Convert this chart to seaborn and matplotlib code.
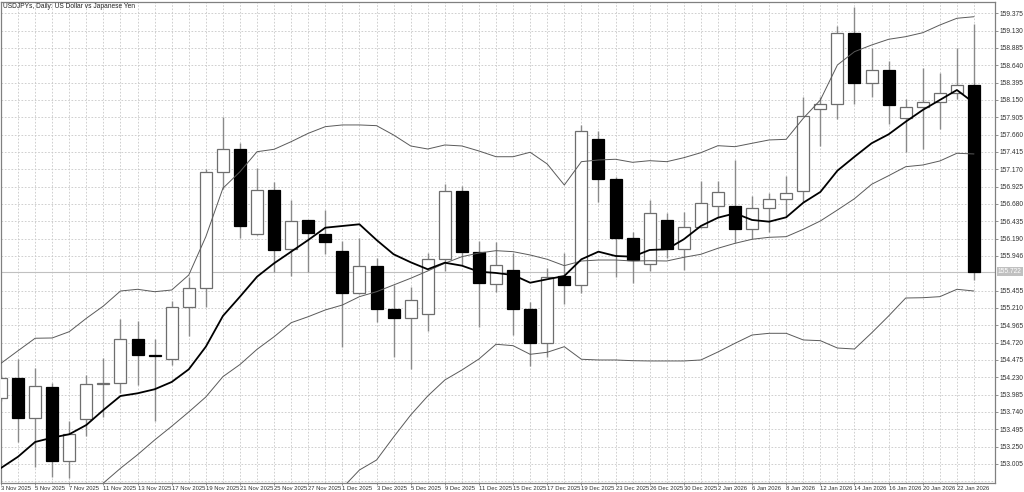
import numpy as np
import pandas as pd
import matplotlib
matplotlib.use("Agg")
import matplotlib.pyplot as plt
import matplotlib.transforms as mtransforms
import seaborn as sns

title = "USDJPYs, Daily: US Dollar vs Japanese Yen"

dates = ['3 Nov 2025', '4 Nov 2025', '5 Nov 2025', '6 Nov 2025', '7 Nov 2025',
         '10 Nov 2025', '11 Nov 2025', '12 Nov 2025', '13 Nov 2025', '14 Nov 2025',
         '17 Nov 2025', '18 Nov 2025', '19 Nov 2025', '20 Nov 2025', '21 Nov 2025',
         '24 Nov 2025', '25 Nov 2025', '26 Nov 2025', '27 Nov 2025', '28 Nov 2025',
         '1 Dec 2025', '2 Dec 2025', '3 Dec 2025', '4 Dec 2025', '5 Dec 2025',
         '8 Dec 2025', '9 Dec 2025', '10 Dec 2025', '11 Dec 2025', '12 Dec 2025',
         '15 Dec 2025', '16 Dec 2025', '17 Dec 2025', '18 Dec 2025', '19 Dec 2025',
         '22 Dec 2025', '23 Dec 2025', '24 Dec 2025', '26 Dec 2025', '29 Dec 2025',
         '30 Dec 2025', '31 Dec 2025', '2 Jan 2026', '5 Jan 2026', '6 Jan 2026',
         '7 Jan 2026', '8 Jan 2026', '9 Jan 2026', '12 Jan 2026', '13 Jan 2026',
         '14 Jan 2026', '15 Jan 2026', '16 Jan 2026', '19 Jan 2026', '20 Jan 2026',
         '21 Jan 2026', '22 Jan 2026', '23 Jan 2026']

opens = [153.942, 154.216, 153.651, 154.097, 153.051, 153.637, 154.135, 154.145, 154.767, 154.540,
         154.489, 155.220, 155.488, 157.128, 157.457, 156.252, 156.874, 156.040, 156.449, 156.260,
         156.016, 155.418, 155.804, 155.196, 155.073, 155.121, 155.907, 156.868, 156.001, 155.549,
         155.743, 155.200, 154.711, 155.662, 155.539, 157.603, 157.029, 156.195, 155.832, 156.454,
         156.040, 156.359, 156.652, 156.656, 156.322, 156.619, 156.746, 156.864, 158.023, 158.089,
         159.093, 158.394, 158.570, 157.891, 158.055, 158.122, 158.253, 158.366]
highs = [154.263, 154.489, 154.366, 154.145, 153.613, 154.263, 154.499, 155.054, 155.026, 154.767,
         155.309, 155.652, 157.175, 157.905, 157.546, 157.185, 156.991, 156.736, 156.454, 156.588,
         156.157, 156.195, 155.912, 155.535, 155.502, 155.983, 156.963, 156.934, 156.161, 156.147,
         155.983, 155.290, 155.771, 155.983, 157.797, 157.712, 157.066, 156.288, 156.736, 156.557,
         156.571, 157.005, 157.005, 157.302, 156.793, 156.831, 157.076, 158.188, 158.197, 159.196,
         159.460, 158.881, 158.701, 158.164, 158.598, 158.536, 158.889, 159.224]
lows = [153.895, 153.312, 152.967, 152.825, 152.803, 153.405, 153.673, 154.013, 154.121, 153.617,
        154.404, 154.814, 155.220, 156.888, 156.195, 156.242, 155.723, 155.662, 155.719, 155.977,
        154.663, 155.410, 155.016, 154.513, 154.343, 154.889, 155.733, 155.818, 154.946, 155.432,
        154.828, 154.394, 154.513, 155.266, 155.426, 156.704, 155.652, 155.559, 155.733, 155.912,
        155.747, 156.345, 156.500, 156.124, 156.181, 156.288, 156.492, 156.712, 157.504, 157.881,
        158.093, 158.188, 157.811, 157.419, 157.457, 157.736, 158.164, 155.606]
closes = [154.216, 153.651, 154.107, 153.051, 153.425, 154.140, 154.154, 154.767, 154.546, 154.528,
          155.220, 155.488, 157.128, 157.457, 156.369, 156.874, 156.034, 156.444, 156.266, 156.143,
          155.422, 155.804, 155.196, 155.073, 155.319, 155.907, 156.868, 156.001, 155.559, 155.813,
          155.191, 154.711, 155.652, 155.539, 157.716, 157.029, 156.204, 155.888, 156.548, 156.040,
          156.359, 156.690, 156.854, 156.322, 156.619, 156.746, 156.840, 157.928, 158.089, 159.093,
          158.394, 158.570, 158.075, 158.055, 158.126, 158.253, 158.366, 155.722]

ma_fast = [152.948, 153.108, 153.316, 153.377, 153.425, 153.556, 153.768, 153.966, 154.004, 154.061,
           154.164, 154.343, 154.663, 155.097, 155.370, 155.652, 155.842, 156.006, 156.171, 156.345,
           156.369, 156.393, 156.171, 155.969, 155.856, 155.757, 155.850, 155.808, 155.723, 155.705,
           155.676, 155.567, 155.616, 155.662, 155.898, 156.006, 155.945, 155.935, 156.030, 156.040,
           156.181, 156.369, 156.486, 156.548, 156.454, 156.430, 156.492, 156.698, 156.850, 157.151,
           157.348, 157.538, 157.665, 157.843, 158.009, 158.150, 158.291, 158.108]
bb_upper = [154.428, 154.606, 154.782, 154.786, 154.875, 155.064, 155.238, 155.450, 155.474, 155.440,
            155.464, 155.676, 156.218, 156.902, 157.136, 157.419, 157.453, 157.561, 157.679, 157.773,
            157.797, 157.797, 157.787, 157.655, 157.500, 157.457, 157.514, 157.500, 157.429, 157.348,
            157.348, 157.411, 157.245, 156.948, 157.278, 157.302, 157.312, 157.269, 157.292, 157.278,
            157.334, 157.405, 157.504, 157.490, 157.538, 157.585, 157.594, 157.891, 158.150, 158.645,
            158.833, 158.927, 159.008, 159.045, 159.101, 159.210, 159.305, 159.327]
bb_mid = [151.506, 151.704, 151.916, 152.114, 152.326, 152.538, 152.736, 152.944, 153.136, 153.344,
          153.538, 153.740, 153.952, 154.239, 154.411, 154.626, 154.804, 155.002, 155.087, 155.182,
          155.252, 155.370, 155.440, 155.535, 155.630, 155.733, 155.842, 155.935, 155.987, 156.020,
          156.006, 155.959, 155.898, 155.808, 155.874, 155.888, 155.888, 155.874, 155.878, 155.874,
          155.926, 155.969, 156.054, 156.124, 156.181, 156.209, 156.218, 156.322, 156.440, 156.595,
          156.755, 156.958, 157.080, 157.207, 157.231, 157.288, 157.397, 157.387]
bb_lower = [148.580, 148.806, 149.047, 149.443, 149.782, 150.008, 150.234, 150.432, 150.800, 151.252,
            151.605, 151.803, 151.690, 151.577, 151.690, 151.832, 152.157, 152.439, 152.496, 152.595,
            152.666, 152.920, 153.061, 153.386, 153.697, 153.966, 154.192, 154.333, 154.489, 154.697,
            154.677, 154.555, 154.584, 154.663, 154.485, 154.475, 154.475, 154.465, 154.461, 154.461,
            154.461, 154.475, 154.588, 154.711, 154.828, 154.852, 154.852, 154.758, 154.748, 154.644,
            154.630, 154.857, 155.097, 155.351, 155.355, 155.370, 155.474, 155.450]

y_tick_labels = ['159.375', '159.130', '158.885', '158.640', '158.395', '158.150', '157.905',
                 '157.660', '157.415', '157.170', '156.925', '156.680', '156.435', '156.190',
                 '155.946', '155.455', '155.210', '154.965', '154.720', '154.475', '154.230',
                 '153.985', '153.740', '153.495', '153.250', '153.005']
last_price = 155.722
last_price_label = '155.722'

# ---------------------------------------------------------------
df = pd.DataFrame({'date': dates, 'open': opens, 'high': highs, 'low': lows,
                   'close': closes, 'ma': ma_fast, 'upper': bb_upper,
                   'mid': bb_mid, 'lower': bb_lower})
df['idx'] = np.arange(len(df))
df['up'] = df['close'] >= df['open']

sns.set_theme(style="white")
plt.rcParams['font.family'] = ['Liberation Sans Narrow', 'Liberation Sans', 'DejaVu Sans']

W, H = 1024, 492
fig = plt.figure(figsize=(W / 100, H / 100), dpi=100)
fig.patch.set_facecolor('white')
# plot area: x 1..995 px, y 2..483 px (from top)
ax = fig.add_axes([1 / W, (H - 483) / H, 994 / W, 481 / H])
ax.set_facecolor('white')

bar_px = 17.07
ax.set_xlim(0, 994 / bar_px)
ax.set_ylim(152.736, 159.535)

grid_col = '#c8c8c8'
ytick_vals = [float(v) for v in y_tick_labels]
grid_y = ytick_vals + [ytick_vals[-1] - 0.245]
for gy in grid_y:
    ax.axhline(gy, color=grid_col, lw=0.6, ls=(0, (2, 2)), zorder=0)
for gx in df['idx']:
    ax.axvline(gx, color=grid_col, lw=0.6, ls=(0, (2, 2)), zorder=0)

# current price line
ax.axhline(last_price, color='#c0c0c0', lw=0.8, zorder=1)

# wicks
ax.vlines(df['idx'], df['low'], df['high'], color='#8a8a8a', lw=1.0, zorder=2)

# bodies
body_w = 12 / bar_px
bottoms = np.minimum(df['open'], df['close'])
heights = (df['close'] - df['open']).abs()
face = np.where(df['up'], 'white', 'black')
edge = np.where(df['up'], '#6e6e6e', 'black')
ax.bar(df['idx'], heights, bottom=bottoms, width=body_w, color=face,
       edgecolor=edge, linewidth=0.9, zorder=3)

# indicator lines
for col in ['upper', 'mid', 'lower']:
    sns.lineplot(data=df, x='idx', y=col, ax=ax, color='#5a5a5a', lw=0.7,
                 zorder=4, legend=False)
sns.lineplot(data=df, x='idx', y='ma', ax=ax, color='black', lw=1.3,
             zorder=5, legend=False)

# axes styling
ax.set_xlabel('')
ax.set_ylabel('')
for s in ax.spines.values():
    s.set_color('#808080')
    s.set_linewidth(0.9)

ax.yaxis.tick_right()
ax.set_yticks(ytick_vals)
ax.set_yticklabels(y_tick_labels)
ax.tick_params(axis='y', right=True, left=False, length=2.2, width=0.6,
               color='#808080', labelsize=4.8, pad=1.0, labelcolor='#303030')

label_idx = df['idx'][::2].tolist()
ax.set_xticks(label_idx)
ax.set_xticklabels(df['date'][::2].tolist(), ha='left')
ax.tick_params(axis='x', bottom=True, length=1.5, width=0.6, color='#808080',
               labelsize=4.2, pad=0.4, labelcolor='#303030')

# last price tag
trans = mtransforms.blended_transform_factory(ax.transAxes, ax.transData)
ax.text(1.0 + 3 / 994, last_price, last_price_label, transform=trans,
        fontsize=4.8, color='white', va='center', ha='left', zorder=6,
        bbox=dict(boxstyle='square,pad=0.15', fc='#c0c0c0', ec='none'),
        clip_on=False)

# title
fig.text(3 / W, 1 - 3 / H, title, fontsize=4.8, color='#202020',
         ha='left', va='top')

fig.savefig('out.png', dpi=100, facecolor='white')
